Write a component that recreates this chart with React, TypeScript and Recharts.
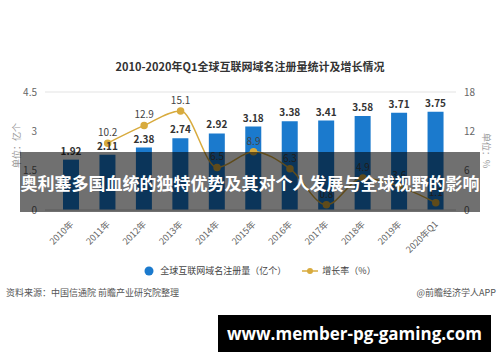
import React from 'react'
import {
  ComposedChart,
  Bar,
  Line,
  XAxis,
  YAxis,
  CartesianGrid,
  LabelList,
} from 'recharts'

const years = ['2010年', '2011年', '2012年', '2013年', '2014年', '2015年', '2016年', '2017年', '2018年', '2019年', '2020年Q1']
const domains = [1.92, 2.11, 2.38, 2.74, 2.92, 3.18, 3.38, 3.41, 3.58, 3.71, 3.75]
const growth = [null, 10.2, 12.9, 15.1, 6.5, 8.9, 6.3, 0.8, 4.9, 3.6, 1.1]
const leftTicks = [0, 1.5, 3, 4.5]
const rightTicks = [0, 6, 12, 18]

const FONT = '"Noto Sans CJK SC", "Noto Sans", sans-serif'
const BLUE = '#1b7acd'
const GOLD = '#d8ab3e'

const data = years.map((y, i) => ({ year: y, domains: domains[i], growth: growth[i] }))

function XTick({ x, y, payload }: any) {
  return (
    <g transform={`translate(${x},${y + 4})`}>
      <text transform="rotate(-45)" textAnchor="end" dy={4} fontSize={9} fill="#666" fontFamily={FONT}>
        {payload.value}
      </text>
    </g>
  )
}

export default function App() {
  return (
    <div style={{ position: 'absolute', left: 0, top: 0, width: 500, height: 362, background: '#fff', fontFamily: FONT, overflow: 'hidden' }}>
      <div style={{ position: 'absolute', top: 58, width: 500, textAlign: 'center', fontSize: 11, fontWeight: 'bold', color: '#333' }}>
        2010-2020年Q1全球互联网域名注册量统计及增长情况
      </div>
      <ComposedChart
        width={500}
        height={362}
        data={data}
        margin={{ top: 92, right: 14, left: 15, bottom: 102 }}
        style={{ position: 'absolute', left: 0, top: 0 }}
      >
        <CartesianGrid vertical={false} stroke="#e3e3e3" />
        <XAxis
          dataKey="year"
          tick={<XTick />}
          tickLine={false}
          axisLine={{ stroke: '#d8d8d8' }}
          interval={0}
          height={50}
          padding={{ left: 8, right: 2 }}
        />
        <YAxis
          yAxisId="left"
          domain={[0, 4.5]}
          ticks={leftTicks}
          width={30}
          tickLine={false}
          axisLine={false}
          tick={{ fontSize: 10, fill: '#666', fontFamily: FONT }}
        />
        <YAxis
          yAxisId="right"
          orientation="right"
          domain={[0, 18]}
          ticks={rightTicks}
          width={30}
          tickLine={false}
          axisLine={false}
          tick={{ fontSize: 10, fill: '#666', fontFamily: FONT }}
        />
        <Bar yAxisId="left" dataKey="domains" fill={BLUE} barSize={16} isAnimationActive={false}>
          <LabelList dataKey="domains" position="top" fontSize={10} fontWeight="bold" fill="#333" fontFamily={FONT} />
        </Bar>
        <Line
          yAxisId="right"
          dataKey="growth"
          type="monotone"
          stroke={GOLD}
          strokeWidth={1.5}
          dot={{ r: 3, fill: GOLD, stroke: GOLD }}
          connectNulls
          isAnimationActive={false}
        >
          <LabelList dataKey="growth" position="top" offset={7} fontSize={10} fill="#444" fontFamily={FONT} />
        </Line>
      </ComposedChart>
      <div style={{ position: 'absolute', left: 10, top: 168, transform: 'rotate(-90deg)', transformOrigin: 'left top', fontSize: 9, color: '#999', whiteSpace: 'nowrap' }}>
        单位：亿个
      </div>
      <div style={{ position: 'absolute', left: 493, top: 133, transform: 'rotate(90deg)', transformOrigin: 'left top', fontSize: 9, color: '#999', whiteSpace: 'nowrap' }}>
        单位：%
      </div>
      <div style={{ position: 'absolute', left: 20, top: 152, width: 460, height: 60, background: 'rgba(0,0,0,0.56)', color: '#fff', fontSize: 17, fontWeight: 'bold', display: 'flex', alignItems: 'center', justifyContent: 'center', whiteSpace: 'nowrap' }}>
        奥利塞多国血统的独特优势及其对个人发展与全球视野的影响
      </div>
      <div style={{ position: 'absolute', top: 264, left: 10, width: 500, display: 'flex', justifyContent: 'center', alignItems: 'center', fontSize: 9, color: '#444' }}>
        <svg width={10} height={10} style={{ marginRight: 6 }}>
          <circle cx={5} cy={5} r={4.5} fill={BLUE} />
        </svg>
        <span>全球互联网域名注册量（亿个）</span>
        <svg width={16} height={10} style={{ marginLeft: 16, marginRight: 4 }}>
          <line x1={0} y1={5} x2={16} y2={5} stroke={GOLD} strokeWidth={1.5} />
          <circle cx={8} cy={5} r={3} fill={GOLD} />
        </svg>
        <span>增长率（%）</span>
      </div>
      <div style={{ position: 'absolute', top: 286, left: 6, fontSize: 9, color: '#555' }}>
        资料来源：中国信通院 前瞻产业研究院整理
      </div>
      <div style={{ position: 'absolute', top: 286, right: 4, fontSize: 9, color: '#555' }}>
        @前瞻经济学人APP
      </div>
      <div style={{ position: 'absolute', left: 218, top: 315, width: 273, height: 37, background: '#000', color: '#fff', fontFamily: '"Open Sans", sans-serif', fontWeight: 'bold', fontSize: 17, display: 'flex', alignItems: 'center', justifyContent: 'center' }}>
        www.member-pg-gaming.com
      </div>
    </div>
  )
}
